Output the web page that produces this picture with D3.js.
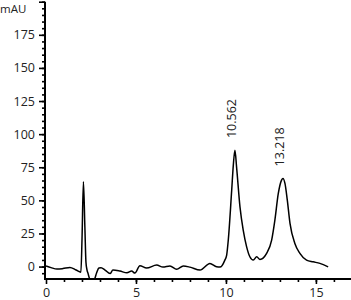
<!DOCTYPE html>
<html>
<head>
<meta charset="UTF-8">
<script src="https://d3js.org/d3.v7.min.js"></script>
<style>
  body { margin: 0; background: #fff; }
  svg text { font-family: "Open Sans", "Noto Sans", sans-serif; fill: #222; }
</style>
</head>
<body>
<div id="chart"></div>
<script>
// retention time (min) and signal (mAU)
const times = [0, 0.28, 0.61, 0.94, 1.33, 1.67, 1.94, 2.0, 2.08, 2.16, 2.22, 2.28, 2.33, 2.44, 2.67, 2.81, 2.94,
  3.06, 3.28, 3.56, 3.72, 4.11, 4.5, 4.76, 4.94, 5.22, 5.59, 6.15, 6.5, 6.89, 7.26, 7.63, 8.0, 8.56, 9.11,
  9.48, 9.67, 9.94, 10.04, 10.13, 10.32, 10.41, 10.5, 10.59, 10.78, 10.96, 11.15, 11.33, 11.52, 11.71,
  11.89, 12.26, 12.54, 12.72, 12.91, 13.09, 13.17, 13.28, 13.41, 13.56, 13.83, 14.11, 14.48, 14.85,
  15.22, 15.68];
const signal = [0.4, -0.8, -1.9, -1.5, -0.6, -2.6, -4.2, 20, 64, 30, 3.4, -2.6, -4.9, -9.4, -10, -4.9, -1.1,
  -0.8, -2.6, -5.3, -2.6, -3.4, -4.7, -3.4, -4.9, 0.6, -1.1, 1.1, -0.4, 0.4, -2.1, 0.4, -0.4, -2.6, 2.4,
  -0.2, -0.4, 4.9, 8.7, 20, 57.7, 76.6, 87.9, 75.3, 45.1, 27.5, 14.9, 7.4, 4.9, 7.4,
  5.4, 10, 20, 35.1, 55.2, 65.3, 66.6, 62.8, 50.2, 32.6, 17.5, 10, 4.9, 3.6,
  2.4, -0.2];

const peakTimes = [10.5, 13.17];
const peakLabels = ["10.562", "13.218"];
const peakHeights = [88, 66.6];

const yTicks = [0, 25, 50, 75, 100, 125, 150, 175];
const xTicks = [0, 5, 10, 15];

const W = 351, H = 300;
const svg = d3.select("#chart").append("svg").attr("width", W).attr("height", H);

const x = d3.scaleLinear().domain([0, 16.95]).range([46, 351]);
const y = d3.scaleLinear().domain([-9, 200]).range([278.5, 1.7]);

svg.append("clipPath").attr("id", "plot")
  .append("rect").attr("x", 46).attr("y", 0).attr("width", 305).attr("height", 278.5);

// trace
const line = d3.line().x(d => x(d[0])).y(d => y(d[1])).curve(d3.curveMonotoneX);
svg.append("path")
  .datum(times.map((t, i) => [t, signal[i]]))
  .attr("clip-path", "url(#plot)")
  .attr("d", line)
  .attr("fill", "none")
  .attr("stroke", "#000")
  .attr("stroke-width", 1.5)
  .attr("stroke-linejoin", "round");

// peak labels, rotated, just above each peak
peakTimes.forEach((t, i) => {
  const px = x(t) + 1.5, py = y(peakHeights[i]) - 12;
  svg.append("text")
    .attr("transform", `translate(${px},${py}) rotate(-90)`)
    .attr("font-size", 12.5)
    .text(peakLabels[i]);
});

// y axis
const yMinor = d3.range(-5, 200.1, 5);
svg.append("g").attr("transform", "translate(45,0)")
  .call(d3.axisLeft(y).tickValues(yMinor).tickSize(3).tickFormat(""))
  .call(g => g.select(".domain").remove())
  .call(g => g.selectAll("line").attr("stroke", "#000").attr("stroke-width", 1.6));
svg.append("g").attr("transform", "translate(45,0)")
  .call(d3.axisLeft(y).tickValues(yTicks.concat([200])).tickSize(6).tickPadding(4)
    .tickFormat(d => d === 200 ? "" : d))
  .call(g => g.select(".domain").remove())
  .call(g => g.selectAll("line").attr("stroke", "#000").attr("stroke-width", 1.6))
  .call(g => g.selectAll("text").attr("font-size", 12.5).attr("fill", "#222"));
svg.append("line").attr("x1", 45).attr("x2", 45).attr("y1", y(200)).attr("y2", 279.5)
  .attr("stroke", "#000").attr("stroke-width", 2);

svg.append("text").attr("x", 0).attr("y", 12.5).attr("font-size", 11.5).text("mAU");

// x axis
svg.append("g").attr("transform", "translate(0,279)")
  .call(d3.axisBottom(x).tickValues(d3.range(1, 17)).tickSize(3).tickFormat(""))
  .call(g => g.select(".domain").remove())
  .call(g => g.selectAll("line").attr("stroke", "#000").attr("stroke-width", 1.6));
svg.append("g").attr("transform", "translate(0,279)")
  .call(d3.axisBottom(x).tickValues(xTicks).tickSize(5).tickPadding(4))
  .call(g => g.select(".domain").remove())
  .call(g => g.selectAll("line").attr("stroke", "#000").attr("stroke-width", 1.6))
  .call(g => g.selectAll("text").attr("font-size", 12.5).attr("fill", "#222"));
svg.append("line").attr("x1", 44).attr("x2", 351).attr("y1", 279).attr("y2", 279)
  .attr("stroke", "#000").attr("stroke-width", 2);
</script>
</body>
</html>
